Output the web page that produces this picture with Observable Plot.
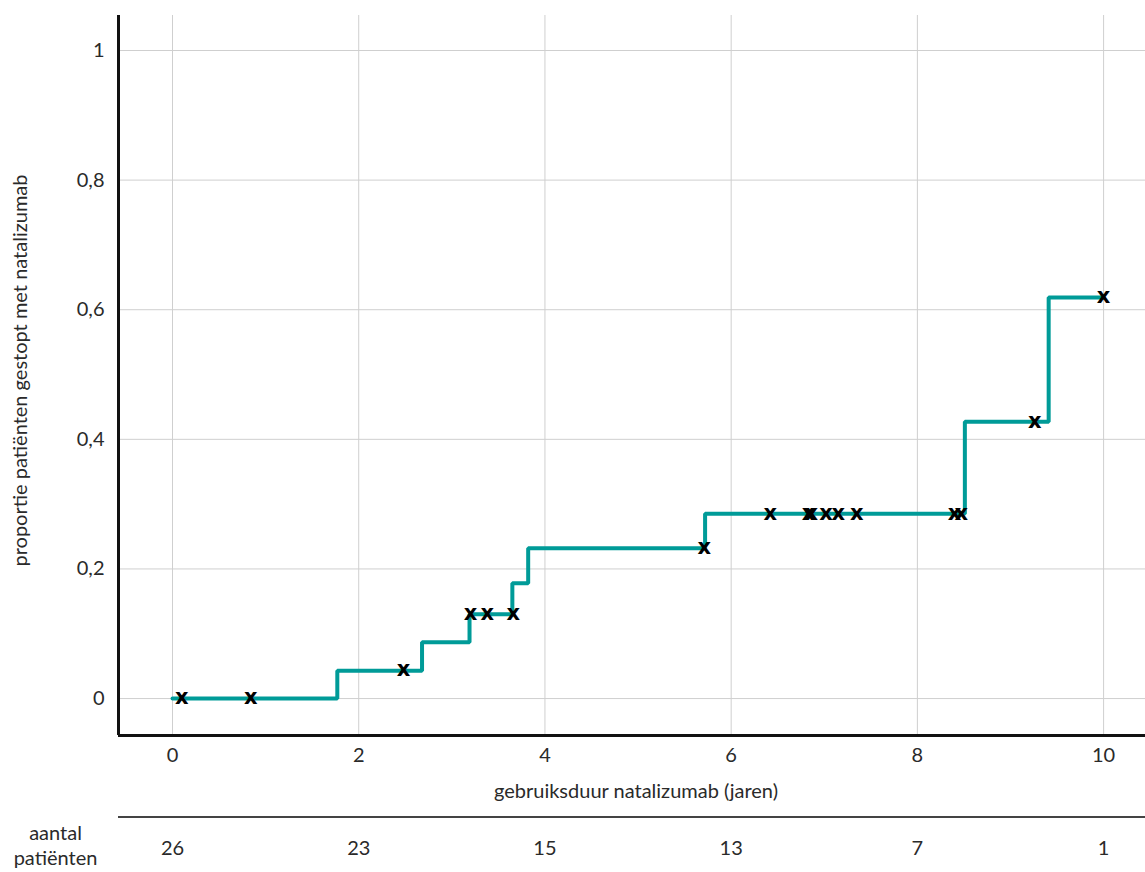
<!DOCTYPE html>
<html>
<head>
<meta charset="utf-8">
<script src="https://cdn.jsdelivr.net/npm/d3@7"></script>
<script src="https://cdn.jsdelivr.net/npm/@observablehq/plot@0.6"></script>
<style>
  body { margin: 0; background: #fff; font-family: Lato, "Open Sans", sans-serif; }
  #wrap { width: 1145px; }
  .sep { margin-left: 118px; border-top: 2px solid #444; height: 0; }
  svg { display: block; }
</style>
</head>
<body>
<div id="wrap"></div>
<script>
// Kaplan–Meier step curve (time in years, cumulative proportion stopped)
const stepTimes  = [0, 1.77, 2.68, 3.19, 3.65, 3.82, 5.72, 8.51, 9.41, 10.0];
const stepValues = [0, 0.043, 0.087, 0.130, 0.178, 0.232, 0.285, 0.427, 0.619, 0.619];

// Censored observations (x marks)
const censorTimes  = [0.10, 0.84, 2.48, 3.20, 3.38, 3.66, 5.71, 6.42, 6.83, 6.86, 7.02, 7.15, 7.35, 8.40, 8.47, 9.26, 10.0];
const censorValues = [0, 0, 0.043, 0.130, 0.130, 0.130, 0.232, 0.285, 0.285, 0.285, 0.285, 0.285, 0.285, 0.285, 0.285, 0.427, 0.619];

// Axis ticks
const xTicks = [0, 2, 4, 6, 8, 10];
const yTicks = [0, 0.2, 0.4, 0.6, 0.8, 1];

// Number at risk
const riskTimes  = [0, 2, 4, 6, 8, 10];
const riskCounts = [26, 23, 15, 13, 7, 1];

const xLabel = "gebruiksduur natalizumab (jaren)";
const yLabel = "proportie patiënten gestopt met natalizumab";
const riskLabel = "aantal\npatiënten";

const xDomain = [-0.58, 10.45];
const yDomain = [-0.057, 1.054];

const stepData = stepTimes.map((t, i) => ({t, v: stepValues[i]}));
const censorData = censorTimes.map((t, i) => ({t, v: censorValues[i]}));
const riskData = riskTimes.map((t, i) => ({t, n: riskCounts[i]}));

const font = "Lato, 'Open Sans', sans-serif";
const teal = "#009B98";
const textColor = "#2a2a2a";
const fs = 20;

const main = Plot.plot({
  width: 1145,
  height: 816,
  marginLeft: 118,
  marginRight: 0,
  marginTop: 15,
  marginBottom: 81,
  style: { fontFamily: font, fontSize: fs + "px", color: textColor, background: "#fff", overflow: "visible" },
  x: { domain: xDomain },
  y: { domain: yDomain },
  marks: [
    Plot.gridX(xTicks, { stroke: "#cfcfcf", strokeOpacity: 1, strokeWidth: 1 }),
    Plot.gridY(yTicks, { stroke: "#cfcfcf", strokeOpacity: 1, strokeWidth: 1 }),
    Plot.axisX(xTicks, { tickSize: 0, tickPadding: 12, label: null, fontSize: fs }),
    Plot.axisY(yTicks, { tickSize: 0, tickPadding: 14, label: null, fontSize: fs,
      tickFormat: d => String(d).replace(".", ",") }),
    Plot.ruleX([xDomain[0]], { stroke: "#111", strokeWidth: 3 }),
    Plot.ruleY([yDomain[0]], { stroke: "#111", strokeWidth: 3 }),
    Plot.line(stepData, { x: "t", y: "v", curve: "step-after", stroke: teal, strokeWidth: 4,
      strokeLinecap: "round", strokeLinejoin: "miter" }),
    Plot.text(censorData, { x: "t", y: "v", text: () => "x", fontFamily: "DejaVu Sans",
      fontWeight: "bold", fontSize: 21, fill: "#000", dy: -1 }),
    Plot.text([xLabel], { frameAnchor: "bottom", text: d => d, dy: 62, dx: 4, fontSize: fs, fill: textColor }),
    Plot.text([yLabel], { frameAnchor: "left", text: d => d, rotate: -90, dx: -98, dy: -5, fontSize: fs, fill: textColor, textAnchor: "middle" })
  ]
});

const risk = Plot.plot({
  width: 1145,
  height: 54,
  marginLeft: 118,
  marginRight: 0,
  marginTop: 0,
  marginBottom: 0,
  style: { fontFamily: font, fontSize: fs + "px", color: textColor, background: "#fff", overflow: "visible" },
  x: { domain: xDomain, axis: null },
  marks: [
    Plot.text(riskData, { x: "t", text: "n", frameAnchor: "middle", dy: 3, fontSize: fs, fill: textColor }),
    Plot.text([riskLabel], { frameAnchor: "left", text: d => d, textAnchor: "middle", dx: -63, dy: -1,
      lineHeight: 1.25, fontSize: fs, fill: textColor })
  ]
});

const wrap = document.getElementById("wrap");
wrap.appendChild(main);
const sep = document.createElement("div");
sep.className = "sep";
wrap.appendChild(sep);
wrap.appendChild(risk);
</script>
</body>
</html>
